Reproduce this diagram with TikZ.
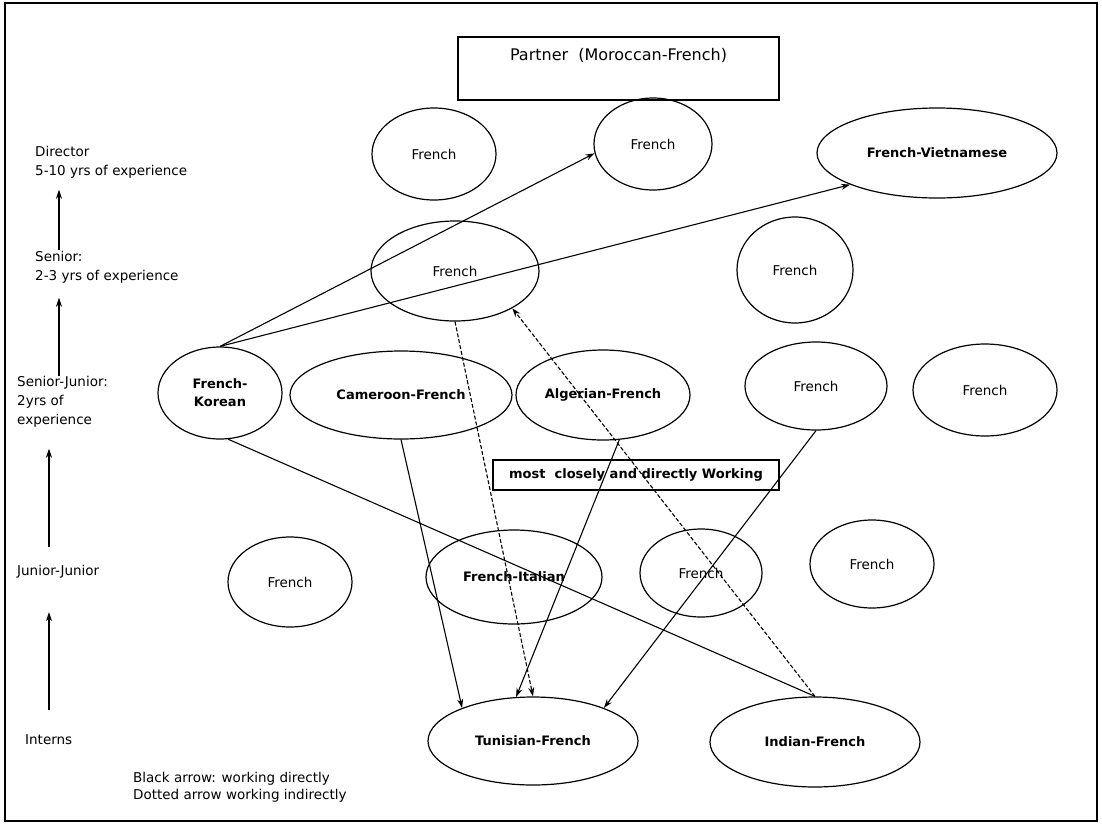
\documentclass[tikz,border=0pt]{standalone}
\usepackage{fontspec}
\setmainfont{DejaVu Sans}
\usetikzlibrary{positioning,shapes.geometric,arrows.meta}
\tikzset{
  grp/.style={shape=ellipse,draw,line width=1.2pt,inner sep=0pt,align=center},
  grpb/.style={grp,font=\fontsize{13}{18}\selectfont\bfseries},
  rank/.style={anchor=west,align=left,inner sep=0pt},
  arr/.style={-{Stealth[length=9pt,width=6pt]},line width=1.1pt},
  indirect/.style={arr,dash pattern=on 4pt off 2pt}
}

\begin{document}
\begin{tikzpicture}[x=1pt,y=-1pt,font=\fontsize{13.5}{19}\selectfont]
    \useasboundingbox (0,0) rectangle (1102,825);
    \draw[line width=1.4pt] (5,3) rectangle (1097,821);
    \node (ptr) [draw,line width=2.6pt,minimum width=321pt,inner ysep=8pt,
      text height=15pt,text depth=32pt,font=\fontsize{16}{19}\selectfont]
      at (618.5,68.5) {Partner~ (Moroccan-French)};
    % ranks on the left
    \node (dir) [rank] at (35,162.5) {Director\\5-10 yrs of experience};
    \node (snr) [rank] at (35,267.5) {Senior:\\2-3 yrs of experience};
    \node (sj) [rank] at (17,402) {Senior-Junior:\\2yrs of\\experience};
    \node (jj) [rank] at (17,571.5) {Junior-Junior};
    \node (int) [rank] at (25,740) {Interns};
    \node (key) [rank,font=\fontsize{13.5}{17}\selectfont] at (133,787)
      {Black arrow: working directly\\Dotted arrow working indirectly};
    \coordinate (colA) at (59,0);
    \coordinate (colB) at (49,0);
    \draw[arr,shorten <=1pt,shorten >=11pt] (colA |- snr.north) -- (colA |- dir.south);
    \draw[arr,shorten >=14pt] (colA |- sj.north) -- (colA |- snr.south);
    \draw[arr,shorten <=18pt,shorten >=21pt] (colB |- jj.north) -- (colB |- sj.south);
    \draw[arr,shorten <=25pt,shorten >=34pt] (colB |- int.north) -- (colB |- jj.south);
    % people
    \node (fa) [grp,minimum width=124pt,minimum height=92pt] at (434,154) {French};
    \node (fb) [grp,minimum width=118pt,minimum height=92pt] at (653,144) {French};
    \node (fviet) [grpb,minimum width=240pt,minimum height=90pt] at (937,153) {French-Vietnamese};
    \node (fsen) [grp,minimum width=168pt,minimum height=100pt] at (455,271) {French};
    \node (fc) [grp,minimum width=116pt,minimum height=106pt] at (795,270) {French};
    \node (fkor) [grpb,minimum width=124pt,minimum height=92pt] at (220,393) {French-\\Korean};
    \node (fcam) [grpb,minimum width=222pt,minimum height=88pt] at (401,395) {Cameroon-French};
    \node (falg) [grpb,minimum width=174pt,minimum height=90pt] at (603,395) {Algerian-French};
    \node (fd) [grp,minimum width=142pt,minimum height=88pt] at (816,386) {French};
    \node (fe) [grp,minimum width=144pt,minimum height=92pt] at (985,390) {French};
    \node (work) [draw,line width=1.1pt,minimum width=286pt,minimum height=30pt,
      font=\fontsize{13}{18}\selectfont\bfseries] at (636,475) {most~ closely and directly Working};
    \node (ff) [grp,minimum width=124pt,minimum height=90pt] at (290,582) {French};
    \node (fita) [grpb,minimum width=176pt,minimum height=94pt] at (514,577) {French-Italian};
    \node (fg) [grp,minimum width=122pt,minimum height=88pt] at (701,573) {French};
    \node (fh) [grp,minimum width=124pt,minimum height=88pt] at (872,564) {French};
    \node (ftun) [grpb,minimum width=210pt,minimum height=88pt] at (533,741) {Tunisian-French};
    \node (find) [grpb,minimum width=210pt,minimum height=90pt] at (815,742) {Indian-French};
    % who works with whom
    \draw[arr] (fkor.north) -- (fb.189);
    \draw[arr] (fkor.north) -- (fviet.200);
    \draw[line width=1.1pt] (fkor.-80) -- (find.north);
    \draw[arr] (fcam.south) -- (ftun.155);
    \draw[arr] (falg.-70) -- (ftun.111);
    \draw[arr] (fd.south) -- (ftun.25);
    \draw[indirect] (fsen.south) -- (ftun.north);
    \draw[indirect] (find.north) -- (fsen.-33);
\end{tikzpicture}
\end{document}
